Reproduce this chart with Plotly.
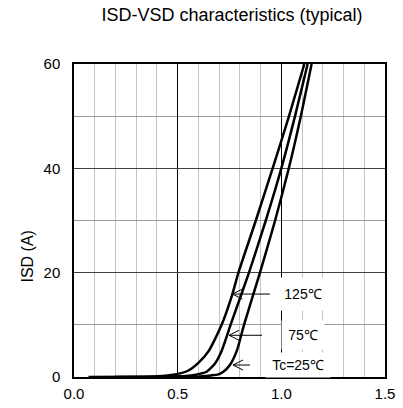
import plotly.graph_objects as go

# Data
vsd_125 = [0.07, 0.30, 0.40, 0.45, 0.50, 0.55, 0.60, 0.65, 0.712, 0.764, 0.793, 0.877, 0.958, 1.037, 1.111]
isd_125 = [0.0, 0.05, 0.15, 0.3, 0.6, 1.2, 2.7, 5.0, 10.0, 15.9, 20.0, 30.0, 40.0, 50.0, 60.0]

vsd_75 = [0.20, 0.40, 0.50, 0.55, 0.58, 0.61, 0.64, 0.68, 0.712, 0.742, 0.755, 0.844, 0.925, 1.000, 1.066, 1.127]
isd_75 = [0.0, 0.05, 0.12, 0.25, 0.4, 0.65, 1.0, 2.6, 5.0, 8.4, 10.0, 20.0, 30.0, 40.0, 50.0, 60.0]

vsd_25 = [0.40, 0.55, 0.62, 0.66, 0.696, 0.72, 0.752, 0.785, 0.820, 0.897, 0.970, 1.036, 1.094, 1.146]
isd_25 = [0.0, 0.05, 0.15, 0.3, 0.5, 1.0, 2.3, 5.0, 10.0, 20.0, 30.0, 40.0, 50.0, 60.0]

labels = ["125℃", "75℃", "Tc=25℃"]
label_x = [1.103, 1.105, 1.078]
label_y = [15.9, 8.0, 2.3]
label_w = [44, 40, 62]
label_h = [30, 26, 22]
arrow_tip_x = [0.764, 0.748, 0.767]
arrow_tail_x = [0.945, 0.907, 0.849]
arrow_y = [15.9, 8.0, 2.3]

title = "ISD-VSD characteristics (typical)"
ytitle = "ISD (A)"
x_ticks = [0.0, 0.5, 1.0, 1.5]
x_ticktext = ["0.0", "0.5", "1.0", "1.5"]
y_ticks = [0, 20, 40, 60]

FONT = "Liberation Sans, Arial, sans-serif"

fig = go.Figure()
for xs, ys, nm in [(vsd_125, isd_125, "125"), (vsd_75, isd_75, "75"), (vsd_25, isd_25, "25")]:
    fig.add_trace(go.Scatter(x=xs, y=ys, mode="lines", name=nm,
                             line=dict(color="black", width=2.5, shape="spline", smoothing=0.6),
                             showlegend=False, hoverinfo="skip"))

# label boxes (white) with text
for t, lx, ly, w, h in zip(labels, label_x, label_y, label_w, label_h):
    fig.add_annotation(x=lx, y=ly, xref="x", yref="y", text=t, showarrow=False,
                       bgcolor="white", width=w, height=h,
                       font=dict(family=FONT, size=14, color="black"))

# arrows: horizontal line + open V head
ahx = 10 / 207.3
ahy = 5 / 5.217
for tx, sx, ay in zip(arrow_tip_x, arrow_tail_x, arrow_y):
    fig.add_trace(go.Scatter(x=[sx, tx, None, tx + ahx, tx, tx + ahx],
                             y=[ay, ay, None, ay + ahy, ay, ay - ahy],
                             mode="lines", line=dict(color="black", width=1),
                             showlegend=False, hoverinfo="skip"))

fig.add_annotation(x=-0.151, y=23.1, xref="paper", yref="y", text=ytitle, textangle=-90,
                   xanchor="center", yanchor="middle",
                   showarrow=False, font=dict(family=FONT, size=16, color="black"))

fig.update_layout(
    width=403, height=408,
    margin=dict(l=74, r=18, t=64, b=31, autoexpand=False),
    paper_bgcolor="white", plot_bgcolor="white",
    title=dict(text=title, x=232 / 403, xref="container", xanchor="center",
               y=1 - 14.5 / 408, yref="container", yanchor="middle",
               font=dict(family=FONT, size=18, color="black")),
    font=dict(family=FONT, size=15, color="black"),
)
fig.update_xaxes(range=[0, 1.5], tickvals=x_ticks, ticktext=x_ticktext, automargin=False,
                 showgrid=True, gridcolor="black", gridwidth=1,
                 minor=dict(dtick=0.1, showgrid=True, gridcolor="#c4c4c4", gridwidth=1),
                 showline=True, linecolor="black", linewidth=1.5, mirror=True,
                 ticks="", zeroline=False, ticklabelstandoff=2,
                 tickfont=dict(family=FONT, size=15, color="black"))
fig.update_yaxes(range=[0, 60], tickvals=y_ticks, automargin=False,
                 showgrid=True, gridcolor="#404040", gridwidth=1,
                 minor=dict(dtick=10, showgrid=True, gridcolor="#999999", gridwidth=1),
                 showline=True, linecolor="black", linewidth=1.5, mirror=True,
                 ticks="", zeroline=False, ticklabelstandoff=9,
                 tickfont=dict(family=FONT, size=15, color="black"))

fig.write_html("out.html", config={"displayModeBar": False},
               post_script="document.body.style.margin='0';")
